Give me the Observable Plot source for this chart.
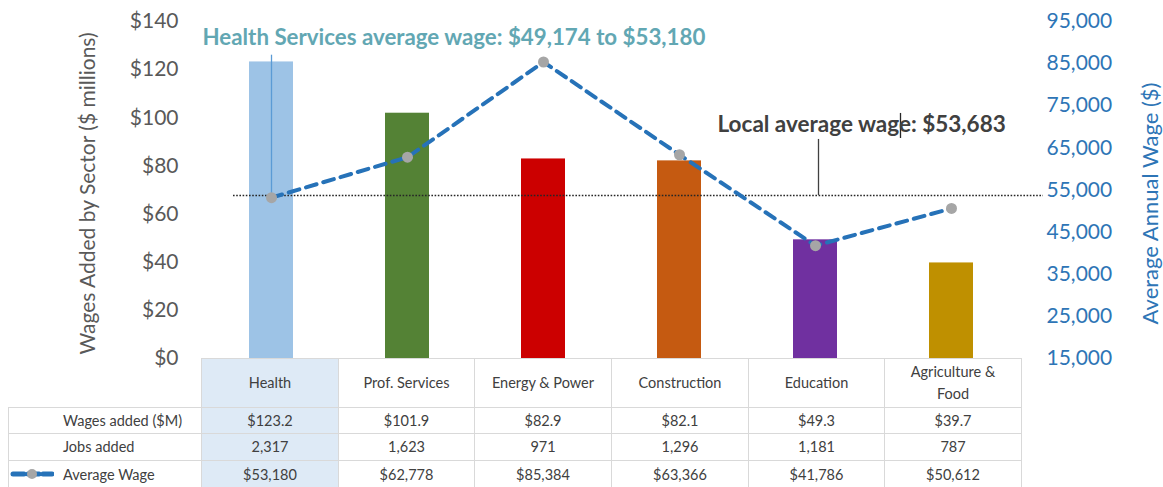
<!DOCTYPE html>
<html><head><meta charset="utf-8">
<script src="https://cdn.jsdelivr.net/npm/d3@7"></script>
<script src="https://cdn.jsdelivr.net/npm/@observablehq/plot@0.6"></script>
<style>
body{margin:0;background:#fff;font-family:Lato,"Open Sans",sans-serif;}
#wrap{position:relative;width:1163px;height:487px;overflow:hidden;background:#fff}
#chart{position:absolute;left:0;top:0}
#table{position:absolute;left:0;top:0;width:1163px;height:487px;pointer-events:none}
.cell{position:absolute;box-sizing:border-box;border:1px solid #d9d9d9;display:flex;align-items:center;justify-content:center;text-align:center;font-size:14.5px;color:#404040;line-height:22px;white-space:pre}
.lab{justify-content:flex-start;padding-left:54px}
.hl{background:#deeaf6}
</style></head><body>
<div id="wrap"><div id="chart"></div><div id="table"></div></div>
<script>
const categories = ["Health","Prof. Services","Energy & Power","Construction","Education","Agriculture & Food"];
const headerLabels = ["Health","Prof. Services","Energy & Power","Construction","Education","Agriculture &\nFood"];
const wagesAdded = [123.2, 101.9, 82.9, 82.1, 49.3, 39.7];
const jobsAdded = [2317, 1623, 971, 1296, 1181, 787];
const avgWage = [53180, 62778, 85384, 63366, 41786, 50612];
const barColors = ["#9dc3e6", "#548235", "#cc0000", "#c55a11", "#7030a0", "#bf9000"];
const leftTicks = [0, 20, 40, 60, 80, 100, 120, 140];
const rightTicks = [15000, 25000, 35000, 45000, 55000, 65000, 75000, 85000, 95000];
const localAvg = 53683;
const rowLabels = ["Wages added ($M)", "Jobs added", "Average Wage"];

const wMin = 15000, wMax = 95000, yMax = 140;
const toY = w => (w - wMin) / (wMax - wMin) * yMax;
const fromY = y => Math.round(y / yMax * (wMax - wMin) + wMin);

const data = categories.map((c, i) => ({cat: c, wages: wagesAdded[i], wage: avgWage[i], color: barColors[i]}));

const lineColor = "#2672b8";
const chart = Plot.plot({
  width: 1163, height: 487,
  marginTop: 21, marginBottom: 129, marginLeft: 201, marginRight: 142,
  style: {fontFamily: "Lato, 'Open Sans', sans-serif", background: "transparent", overflow: "visible"},
  x: {domain: categories, paddingInner: 0.678, paddingOuter: 0.339, axis: null},
  y: {domain: [0, yMax]},
  color: {type: "identity"},
  marks: [
    Plot.axisY({ticks: leftTicks, tickFormat: d => "$" + d, tickSize: 0, tickPadding: 23, fontSize: 21, color: "#595959", label: null}),
    Plot.axisY({anchor: "right", ticks: rightTicks.map(toY), tickFormat: d => d3.format(",")(fromY(d)), tickSize: 0, tickPadding: 25, fontSize: 21, color: "#2e75b6", label: null}),
    Plot.text(["Wages Added by Sector ($ millions)"], {frameAnchor: "left", textAnchor: "middle", dx: -113, dy: 3.5, rotate: -90, fontSize: 21, fill: "#595959"}),
    Plot.text(["Average Annual Wage ($)"], {frameAnchor: "right", textAnchor: "middle", dx: 129, dy: 13.5, rotate: -90, fontSize: 22, fill: "#2e75b6"}),
    Plot.barY(data, {x: "cat", y: "wages", fill: "color"}),
    Plot.ruleY([toY(localAvg)], {stroke: "#262626", strokeWidth: 1.6, strokeDasharray: "1.6,1.6", insetLeft: 32, insetRight: -22}),
    Plot.ruleX(["Health"], {y1: 126, y2: toY(avgWage[0]), stroke: "#5b9bd5", strokeWidth: 1.3}),
    Plot.ruleX(["Education"], {y1: toY(localAvg), y2: 91, dx: 3, stroke: "#404040", strokeWidth: 1.3}),
    Plot.ruleX(["Agriculture & Food"], {y1: 91.4, y2: 101.8, dx: -51, stroke: "#262626", strokeWidth: 1.3}),
    Plot.line(data, {x: "cat", y: d => toY(d.wage), stroke: lineColor, strokeWidth: 4, strokeDasharray: "11,7"}),
    Plot.dot(data, {x: "cat", y: d => toY(d.wage), r: 5.5, fill: "#a6a6a6"}),
    Plot.text(["Health Services average wage: $49,174 to $53,180"], {x: () => "Health", y: 133, dx: -69, textAnchor: "start", fontSize: 22.3, fontWeight: "bold", fill: "#62a7b3"}),
    Plot.text(["Local average wage: $53,683"], {x: () => "Construction", y: 97, dx: 38, textAnchor: "start", fontSize: 22.5, fontWeight: "bold", fill: "#404040"})
  ]
});
document.getElementById("chart").appendChild(chart);

// data table under the chart
const tbl = document.getElementById("table");
const x0 = 201, step = (1021 - 201) / categories.length;
const rows = [[358, 407], [407, 433], [433, 460], [460, 488]];
function cell(x, y, w, h, text, cls) {
  const d = document.createElement("div");
  d.className = "cell " + (cls || "");
  d.style.left = x + "px"; d.style.top = y + "px";
  d.style.width = (w + 1) + "px"; d.style.height = (h + 1) + "px";
  d.textContent = text;
  tbl.appendChild(d);
  return d;
}
const fmt = d3.format(",");
const rowValues = [
  wagesAdded.map(v => "$" + v.toFixed(1)),
  jobsAdded.map(v => fmt(v)),
  avgWage.map(v => "$" + fmt(v))
];
categories.forEach((c, i) => {
  const x = Math.round(x0 + i * step), w = Math.round(x0 + (i + 1) * step) - x;
  cell(x, rows[0][0], w, rows[0][1] - rows[0][0], headerLabels[i], i === 0 ? "hl" : "");
  rowValues.forEach((vals, r) => {
    cell(x, rows[r + 1][0], w, rows[r + 1][1] - rows[r + 1][0], vals[i], i === 0 ? "hl" : "");
  });
});
rowLabels.forEach((t, r) => {
  cell(8, rows[r + 1][0], x0 - 8, rows[r + 1][1] - rows[r + 1][0], t, "lab");
});
// legend key for the line series
const key = d3.create("svg").attr("width", 44).attr("height", 12)
  .style("position", "absolute").style("left", "10px").style("top", (rows[3][0] + 8) + "px");
key.append("line").attr("x1", 3).attr("x2", 42).attr("y1", 6).attr("y2", 6)
  .attr("stroke", lineColor).attr("stroke-width", 5).attr("stroke-dasharray", "11,4").attr("stroke-linecap", "round");
key.append("circle").attr("cx", 22).attr("cy", 6).attr("r", 5).attr("fill", "#a6a6a6");
tbl.appendChild(key.node());
</script>
</body></html>
